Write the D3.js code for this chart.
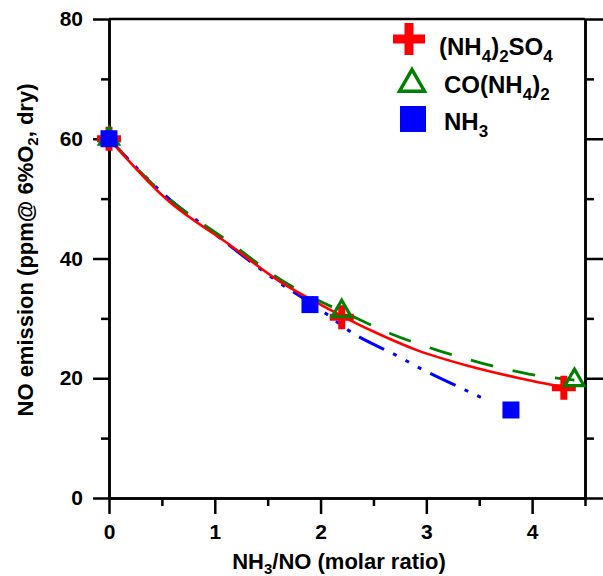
<!DOCTYPE html>
<html><head><meta charset="utf-8">
<script src="https://cdn.jsdelivr.net/npm/d3@7"></script>
<style>body{margin:0;background:#fff}svg{display:block}text{font-family:"Liberation Sans",Arial,sans-serif;font-weight:bold}</style>
</head><body><svg id="c" width="603" height="576"></svg>
<script>
// data
const sulfateX = [0, 2.2, 4.3];
const sulfateY = [60, 30.2, 18.4];
const ureaX = [0, 2.2, 4.4];
const ureaY = [60, 31.2, 19.7];
const ammoniaX = [0, 1.9, 3.8];
const ammoniaY = [60, 32.3, 14.7];
// fitted curves
const sulfateFitX = [0, 0.55, 1.14, 1.62, 2.0, 2.18, 2.5, 2.91, 3.41, 3.88, 4.3];
const sulfateFitY = [60, 49.8, 42.3, 36.1, 32.3, 30.6, 27.8, 24.7, 22.0, 20.0, 18.5];
const ureaFitX = [0, 0.55, 1.14, 1.62, 2.0, 2.2, 2.67, 3.1, 3.53, 3.97, 4.4];
const ureaFitY = [60, 50.2, 42.7, 36.5, 32.8, 31.2, 27.4, 24.7, 22.5, 20.7, 19.7];
const ammoniaFitX = [0, 0.6, 0.91, 1.55, 2.09, 2.23, 2.74, 2.97, 3.24, 3.6];
const ammoniaFitY = [60, 49.5, 45.3, 36.7, 30.3, 28.4, 23.6, 21.4, 19.1, 16.1];
const xMajor = [0, 1, 2, 3, 4];
const xMinor = [0.5, 1.5, 2.5, 3.5, 4.5];
const yMajor = [0, 20, 40, 60, 80];
const yMinor = [10, 30, 50, 70];

const svg = d3.select("#c");
const L = 109, R = 585, T = 19, B = 498;
const x = d3.scaleLinear().domain([0, 4.5]).range([L, R]);
const y = d3.scaleLinear().domain([0, 80]).range([B, T]);

// frame axes
function styleAxis(g){ g.selectAll("path.domain").attr("stroke","#000").attr("stroke-width",2.5);
  g.selectAll("line").attr("stroke","#000").attr("stroke-width",2.5);
  g.selectAll("text").attr("font-size",21).attr("fill","#000").attr("font-family","'Liberation Sans',Arial,sans-serif").attr("font-weight","bold"); }

svg.append("g").attr("transform",`translate(${L},0)`).call(d3.axisLeft(y).tickValues(yMajor).tickSize(16).tickSizeOuter(0).tickPadding(10).tickFormat(d3.format("d"))).call(styleAxis);
svg.append("g").attr("transform",`translate(${L},0)`).call(d3.axisLeft(y).tickValues(yMinor).tickSize(8).tickSizeOuter(0).tickFormat("")).call(styleAxis);
svg.append("g").attr("transform",`translate(${R},0)`).call(d3.axisRight(y).tickValues(yMajor).tickSize(18).tickSizeOuter(0).tickFormat("")).call(styleAxis);
svg.append("g").attr("transform",`translate(${R},0)`).call(d3.axisRight(y).tickValues(yMinor).tickSize(9).tickSizeOuter(0).tickFormat("")).call(styleAxis);
svg.append("g").attr("transform",`translate(0,${B})`).call(d3.axisBottom(x).tickValues(xMajor).tickSize(16).tickSizeOuter(0).tickPadding(10).tickFormat(d3.format("d"))).call(styleAxis);
svg.append("g").attr("transform",`translate(0,${B})`).call(d3.axisBottom(x).tickValues(xMinor).tickSize(8).tickSizeOuter(0).tickFormat("")).call(styleAxis);
svg.append("line").attr("x1",L).attr("x2",R).attr("y1",T).attr("y2",T).attr("stroke","#000").attr("stroke-width",2.5);

// axis titles
const xt = svg.append("text").attr("x",339).attr("y",569).attr("text-anchor","middle").attr("font-size",22);
xt.append("tspan").text("NH");
xt.append("tspan").attr("font-size",15).attr("dy",5).text("3");
xt.append("tspan").attr("dy",-5).text("/NO (molar ratio)");
const yt = svg.append("text").attr("transform","translate(33,250) rotate(-90)").attr("text-anchor","middle").attr("font-size",22);
yt.append("tspan").text("NO emission (ppm@ 6%O");
yt.append("tspan").attr("font-size",15).attr("dy",5).text("2");
yt.append("tspan").attr("dy",-5).text(", dry)");

// fit lines
const line = d3.line().x(d=>x(d[0])).y(d=>y(d[1])).curve(d3.curveMonotoneX);
svg.append("path").datum(ammoniaFitX.map((v,i)=>[v,ammoniaFitY[i]])).attr("d",line)
  .attr("fill","none").attr("stroke","#0000ff").attr("stroke-width",3).attr("stroke-dasharray","28,10,4,10,4,10,4,10");
svg.append("path").datum(ureaFitX.map((v,i)=>[v,ureaFitY[i]])).attr("d",line)
  .attr("fill","none").attr("stroke","#008000").attr("stroke-width",2.8).attr("stroke-dasharray","23,20");
svg.append("path").datum(sulfateFitX.map((v,i)=>[v,sulfateFitY[i]])).attr("d",line)
  .attr("fill","none").attr("stroke","#ff0000").attr("stroke-width",2.6);

function plusPath(w,t){const a=w/2,b=t/2;return `M${-a},${-b}H${-b}V${-a}H${b}V${-b}H${a}V${b}H${b}V${a}H${-b}V${b}H${-a}Z`;}
function triPath(w){const h=w*0.866;return `M0,${-h*2/3}L${w/2},${h/3}L${-w/2},${h/3}Z`;}

// markers
svg.append("g").selectAll("path").data(sulfateX.map((v,i)=>[v,sulfateY[i]])).join("path")
  .attr("d",plusPath(24,7)).attr("transform",d=>`translate(${x(d[0])},${y(d[1])})`).attr("fill","#ff0000");
svg.append("g").selectAll("path").data(ureaX.map((v,i)=>[v,ureaY[i]])).join("path")
  .attr("d",triPath(19)).attr("transform",d=>`translate(${x(d[0])},${y(d[1])})`).attr("fill","none").attr("stroke","#008000").attr("stroke-width",3.2);
svg.append("g").selectAll("rect").data(ammoniaX.map((v,i)=>[v,ammoniaY[i]])).join("rect")
  .attr("x",d=>x(d[0])-8.5).attr("y",d=>y(d[1])-8.5).attr("width",17).attr("height",17).attr("fill","#0000ff");

// legend
const lg = svg.append("g");
lg.append("path").attr("d",plusPath(32,9)).attr("transform","translate(409,39)").attr("fill","#ff0000");
lg.append("path").attr("d",triPath(25)).attr("transform","translate(412,84)").attr("fill","#fff").attr("stroke","#008000").attr("stroke-width",3.5);
lg.append("rect").attr("x",400).attr("y",106).attr("width",26).attr("height",26).attr("fill","#0000ff");
function legText(xp,yp,parts){const t=lg.append("text").attr("x",xp).attr("y",yp).attr("font-size",24);
  let prev=0; parts.forEach(p=>{const s=p[1]?7:0; t.append("tspan").attr("dy",s-prev).attr("font-size",p[1]?17:24).text(p[0]); prev=s;});}
legText(439,55,[["(NH",0],["4",1],[")",0],["2",1],["SO",0],["4",1]]);
legText(444,93,[["CO(NH",0],["4",1],[")",0],["2",1]]);
legText(444,130,[["NH",0],["3",1]]);
</script></body></html>
